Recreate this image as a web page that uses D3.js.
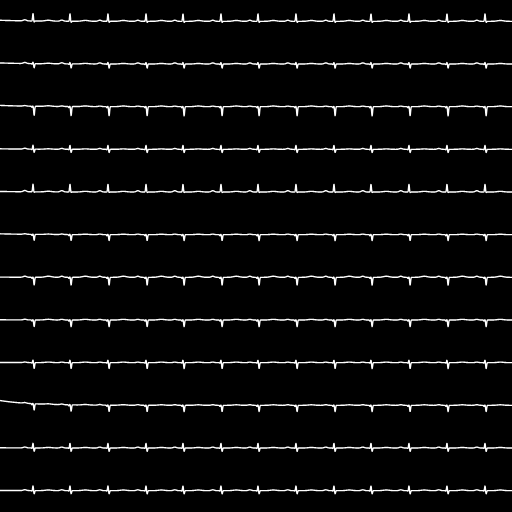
<!DOCTYPE html>
<html>
<head>
<meta charset="utf-8">
<script src="https://cdn.jsdelivr.net/npm/d3@7"></script>
<style>
  html, body { margin: 0; padding: 0; background: #000; }
  svg { display: block; }
</style>
</head>
<body>
<div id="chart"></div>
<script>
// 12 leads, one row each, 10 s recording
const leads = ['I', 'II', 'III', 'aVR', 'aVL', 'aVF', 'V1', 'V2', 'V3', 'V4', 'V5', 'V6'];

// R-peak times (s)
const beatTimes = [0.645, 1.367, 2.109, 2.852, 3.574, 4.316, 5.039, 5.781, 6.523, 7.246, 7.988, 8.730, 9.473];

// per-lead wave amplitudes (mV)
const pAmp = [0.10, 0.10, 0.05, 0.08, 0.12, 0.05, 0.10, 0.06, 0.05, 0.06, 0.08, 0.08];
const qAmp = [0.00, -0.05, -0.10, -0.05, 0.00, -0.10, -0.10, -0.10, -0.05, -0.10, -0.05, -0.05];
const rAmp = [0.70, 0.15, 0.05, 0.38, 0.72, 0.05, 0.05, 0.05, 0.25, 0.05, 0.45, 0.45];
const sAmp = [-0.10, -0.38, -0.85, -0.30, -0.05, -0.55, -0.72, -0.62, -0.55, -0.58, -0.32, -0.30];
const tAmp = [0.08, 0.05, 0.06, 0.04, 0.06, 0.04, 0.10, 0.06, 0.05, 0.05, 0.05, 0.06];

// baseline drift at the start of the record (mV)
const startOffset = [0.10, 0.10, 0.12, 0.05, 0.05, 0.08, 0.02, 0.02, 0.02, 0.45, 0.02, 0.02];

const width = 512;
const height = 512;
const duration = 10;
const fs = 250;

const svg = d3.select('#chart')
    .append('svg')
    .attr('width', width)
    .attr('height', height);

svg.append('rect')
    .attr('width', width)
    .attr('height', height)
    .attr('fill', '#000');

const x = d3.scaleLinear().domain([0, duration]).range([0, width]);
const band = d3.scaleBand().domain(leads).range([0, height]);
const y = d3.scaleLinear().domain([2, -2]).range([0, band.bandwidth()]);

const gauss = (t, c, s) => Math.exp(-((t - c) * (t - c)) / (2 * s * s));

// build a lead's samples from its wave amplitudes at each beat
function leadSamples(i) {
    const pts = [];
    for (let n = 0; n <= duration * fs; n++) {
        const t = n / fs;
        let v = startOffset[i] * Math.exp(-t / 0.6);
        beatTimes.forEach(b => {
            v += pAmp[i] * gauss(t, b - 0.16, 0.03);
            v += qAmp[i] * gauss(t, b - 0.02, 0.008);
            v += rAmp[i] * gauss(t, b, 0.008);
            v += sAmp[i] * gauss(t, b + 0.022, 0.009);
            v += tAmp[i] * gauss(t, b + 0.30, 0.06);
        });
        pts.push([t, v]);
    }
    return pts;
}

const line = d3.line()
    .x(d => x(d[0]))
    .y(d => y(d[1]));

leads.forEach((name, i) => {
    svg.append('g')
        .attr('class', 'lead')
        .attr('transform', `translate(0,${band(name)})`)
        .append('path')
        .datum(leadSamples(i))
        .attr('fill', 'none')
        .attr('stroke', '#fff')
        .attr('stroke-width', 1.4)
        .attr('stroke-linejoin', 'round')
        .attr('d', line);
});
</script>
</body>
</html>
